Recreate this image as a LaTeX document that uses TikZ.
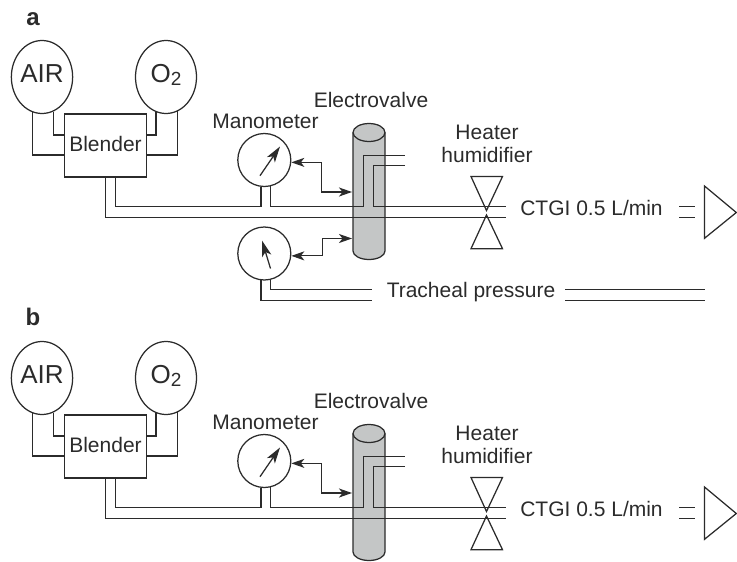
\documentclass[tikz,border=0pt]{standalone}
\usepackage{fontspec}
\setmainfont{Liberation Sans}
\usetikzlibrary{arrows.meta,shapes.geometric}
\definecolor{ink}{HTML}{2B2B2B}
\definecolor{valvegray}{HTML}{C4C6C6}
\tikzset{
  pipe/.style={draw=ink,line width=1.25pt},
  tank/.style={ellipse,draw=ink,line width=1.25pt,inner sep=0pt,minimum width=61pt,minimum height=73pt,
    font=\fontsize{26}{30}\selectfont,text height=19pt,text depth=7.6pt},
  mixer/.style={rectangle,draw=ink,line width=1.25pt,inner sep=0pt,minimum width=82pt,minimum height=63pt,
    text height=15pt,text depth=2.6pt},
  gauge/.style={circle,draw=ink,line width=1.25pt,inner sep=0pt,minimum size=53pt},
  lbl/.style={anchor=base,inner sep=0pt},
  dbl/.style={pipe,{Stealth[length=13pt,width=9pt,inset=3.5pt]}-{Stealth[length=13pt,width=9pt,inset=3.5pt]}},
  needle/.style={pipe,-{Stealth[length=16pt,width=9.5pt,inset=4pt]}},
  every node/.style={font=\fontsize{21}{25}\selectfont,text=ink}
}
\begin{document}
\begin{tikzpicture}[x=1pt,y=-1pt]
\useasboundingbox (0,0) rectangle (737,562);

\foreach \panelname/\dy/\lby in {a/0/25,b/301/24}{
\begin{scope}[shift={(0,\dy)},name prefix=\panelname-]
\node[lbl,font=\fontsize{24}{28}\selectfont\bfseries] (panel) at (33,\lby) {\panelname};

\node[tank] (air) at (42,77) {AIR};
\node[tank] (oxy) at (166,77) {O\raisebox{-3pt}{\fontsize{19}{22}\selectfont 2}};
\node[mixer] (blender) at (105.5,145.5) {Blender};
\node[gauge] (mano) at (264.3,160) {};

\draw[pipe] (air.-105) |- ([yshift=-9.5pt]blender.west);
\draw[pipe] (air.-72) |- ([yshift=10.5pt]blender.west);
\draw[pipe] (oxy.-106) |- ([yshift=10.5pt]blender.east);
\draw[pipe] (oxy.-71) |- ([yshift=-9.5pt]blender.east);

\draw[pipe,fill=valvegray] (353,132.5) -- (353,251) arc[start angle=180,end angle=360,x radius=16pt,y radius=8.5pt] -- (385,132.5) arc[start angle=0,end angle=180,x radius=16pt,y radius=9pt] -- cycle;
\draw[pipe] (353,132.5) arc[start angle=180,end angle=360,x radius=16pt,y radius=9pt];

\coordinate (valvein) at (352,192);
\coordinate (heatA) at (405,155.5);
\coordinate (heatB) at (405,165.7);
\coordinate (tubeAend) at (506,206.8);
\coordinate (tubeBend) at (506,217.3);
\coordinate (bendA) at (363.3,206.8);
\coordinate (bendB) at (373.5,206.8);

\draw[pipe] (blender.south) |- (tubeBend);
\draw[pipe] ([xshift=10pt]blender.south) |- (mano.-97.7 |- bendA) -- (mano.-97.7);
\draw[pipe] (mano.-76) -- (mano.-76 |- bendA) -- (bendA) |- (heatA);
\draw[pipe] (heatB) -| (bendB) -- (tubeAend);

\coordinate (manopivot) at (260,175.7);
\coordinate (manotip) at (280,146.5);
\draw[needle] (manopivot) -- (manotip);
\draw[dbl] (mano.-5) -| (321.5,177) |- (valvein);

\draw[pipe] (471,176.5) -- (502.5,176.5) -- (486.5,210.5) -- cycle;
\draw[pipe] (486.5,215) -- (502.5,248.7) -- (471,248.7) -- cycle;

\coordinate (stubA) at (679,206.8);
\coordinate (stubB) at (679,217.3);
\coordinate (stubAend) at (695,206.8);
\coordinate (stubBend) at (695,217.3);
\draw[pipe] (stubA) -- (stubAend);
\draw[pipe] (stubB) -- (stubBend);
\draw[pipe] (704.5,186) -- (736.3,212.5) -- (704.5,238.3) -- cycle;

\node[lbl] (valvelbl) at (371,107.5) {Electrovalve};
\node[lbl] (manolbl) at (265.5,128.7) {Manometer};
\node[lbl] (heatlbl) at (487,139) {Heater};
\node[lbl] (humidlbl) at (487,162) {humidifier};
\node[lbl] (ctgilbl) at (591.5,215) {CTGI 0.5 L/min};
\end{scope}
}

\node[gauge] (press) at (264.3,253.5) {};
\coordinate (pressin) at (352,238.5);
\coordinate (presspivot) at (270.5,268.5);
\coordinate (presstip) at (262,240.5);
\coordinate (trachA) at (371.5,289.7);
\coordinate (trachB) at (371.5,300.2);
\coordinate (trachC) at (565,289.7);
\coordinate (trachD) at (565,300.2);
\coordinate (trachE) at (705,289.7);
\coordinate (trachF) at (705,300.2);
\draw[needle] (presspivot) -- (presstip);
\draw[dbl] (press.-5) -| (322.5,245) |- (pressin);
\draw[pipe] (press.-97.7) |- (trachB);
\draw[pipe] (press.-76) |- (trachA);
\draw[pipe] (trachC) -- (trachE);
\draw[pipe] (trachD) -- (trachF);
\node[lbl] (trachlbl) at (471,297.7) {Tracheal pressure};
\end{tikzpicture}
\end{document}
